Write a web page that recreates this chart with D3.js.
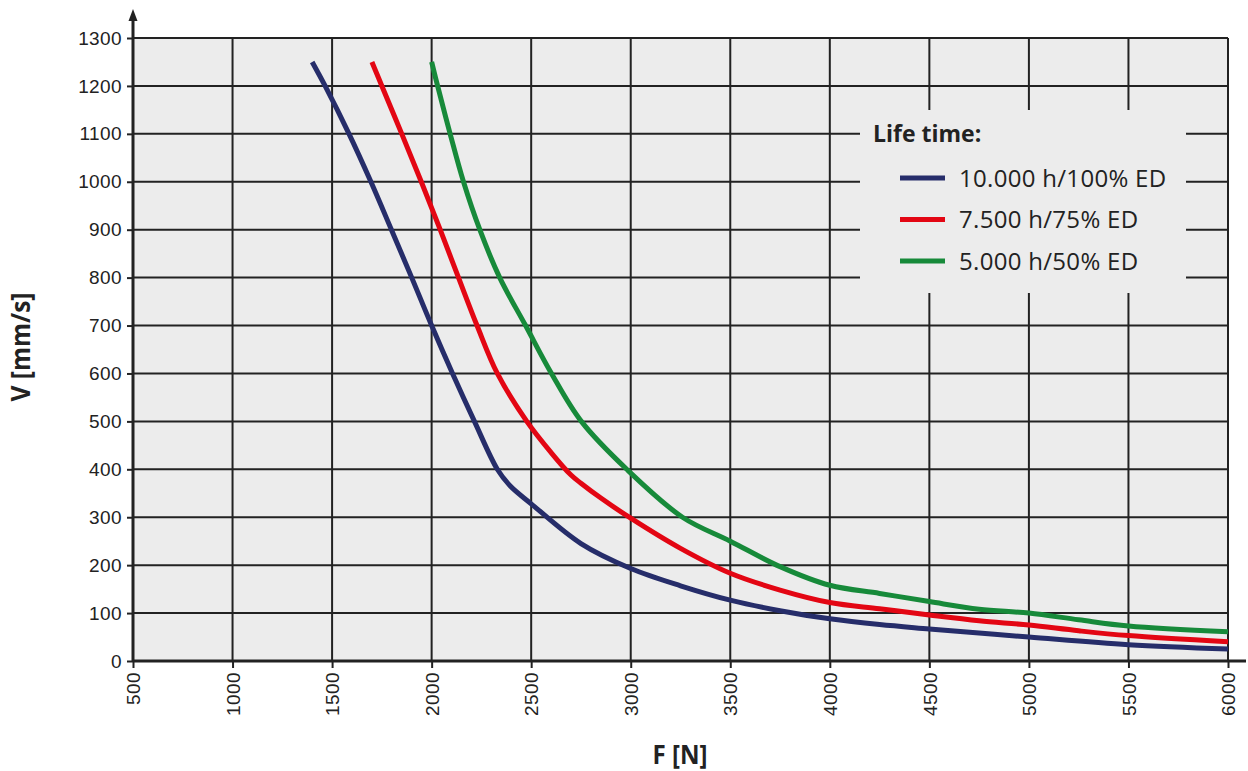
<!DOCTYPE html>
<html>
<head>
<meta charset="utf-8">
<script src="https://cdn.jsdelivr.net/npm/d3@7"></script>
<style>
  body { margin: 0; background: #fff; }
  svg { display: block; }
  .tick text { font-family: "Liberation Sans", Arial, sans-serif; font-size: 19px; fill: #222; letter-spacing: 0.4px; }
  .lab { font-family: "Open Sans", sans-serif; fill: #222; }
</style>
</head>
<body>
<svg id="chart" width="1248" height="771"></svg>
<script>
// force [N] ticks and speed [mm/s] ticks
var xTicks = [500,1000,1500,2000,2500,3000,3500,4000,4500,5000,5500,6000];
var yTicks = [0,100,200,300,400,500,600,700,800,900,1000,1100,1200,1300];

// 10.000 h / 100% ED
var blueF = [1400,1465,1585,1695,1798,1900,2000,2105,2215,2330,2395,2500,2750,3000,3250,3500,3750,4000,4250,4500,5000,5500,6000];
var blueV = [1250,1200,1100,1000,900,800,700,600,500,400,365,328,245,193,157,127,105,88,76,67,50,34,25];

// 7.500 h / 75% ED
var redF = [1700,1750,1850,1948,2043,2135,2228,2330,2478,2600,2700,2750,2850,3000,3250,3500,3750,4000,4250,4500,4750,5000,5250,5500,6000];
var redV = [1250,1200,1100,1000,900,800,700,600,500,435,388,371,340,298,235,183,148,122,109,96,84,75,63,53,40];

// 5.000 h / 50% ED
var greenF = [2000,2030,2093,2160,2242,2342,2472,2602,2752,2980,3260,3500,3750,4000,4250,4500,4750,5000,5250,5500,6000];
var greenV = [1250,1200,1100,1000,900,800,700,600,500,400,300,250,197,158,141,124,108,100,86,73,61];

var seriesNames = ["10.000 h/100% ED", "7.500 h/75% ED", "5.000 h/50% ED"];
var seriesColors = ["#262d6a", "#e30613", "#178a3a"];

var plotL = 133, plotR = 1228, plotT = 38, plotB = 661;

var svg = d3.select("#chart");

var x = d3.scaleLinear().domain([500, 6000]).range([plotL, plotR]);
var y = d3.scaleLinear().domain([0, 1300]).range([plotB, plotT]);

// plot background
svg.append("rect")
  .attr("x", plotL).attr("y", plotT)
  .attr("width", plotR - plotL).attr("height", plotB - plotT)
  .attr("fill", "#ececec");

// grid
svg.append("g").selectAll("line").data(xTicks.slice(1)).enter().append("line")
  .attr("x1", d => x(d)).attr("x2", d => x(d))
  .attr("y1", plotT).attr("y2", plotB)
  .attr("stroke", "#222").attr("stroke-width", 2);
svg.append("g").selectAll("line").data(yTicks.slice(1)).enter().append("line")
  .attr("x1", plotL).attr("x2", plotR)
  .attr("y1", d => y(d)).attr("y2", d => y(d))
  .attr("stroke", "#222").attr("stroke-width", 2);

// axes
var xAxis = svg.append("g")
  .attr("transform", "translate(0," + plotB + ")")
  .call(d3.axisBottom(x).tickValues(xTicks).tickSize(7).tickSizeOuter(0).tickFormat(d3.format("d")));
xAxis.select(".domain").remove();
xAxis.selectAll(".tick line").attr("stroke", "#222").attr("stroke-width", 2);
xAxis.selectAll(".tick text")
  .attr("transform", "translate(0,11) rotate(-90)")
  .attr("x", 0).attr("y", 0).attr("dy", "0.35em")
  .attr("text-anchor", "end");

var yAxis = svg.append("g")
  .attr("transform", "translate(" + plotL + ",0)")
  .call(d3.axisLeft(y).tickValues(yTicks).tickSize(6).tickSizeOuter(0).tickPadding(5).tickFormat(d3.format("d")));
yAxis.select(".domain").remove();
yAxis.selectAll(".tick line").attr("stroke", "#222").attr("stroke-width", 2);

svg.append("line")
  .attr("x1", plotL).attr("x2", 1246).attr("y1", plotB).attr("y2", plotB)
  .attr("stroke", "#222").attr("stroke-width", 3);
svg.append("line")
  .attr("x1", plotL).attr("x2", plotL).attr("y1", plotB + 1).attr("y2", 18)
  .attr("stroke", "#222").attr("stroke-width", 3);
svg.append("path")
  .attr("d", "M" + plotL + ",9 L" + (plotL - 4.5) + ",21 L" + (plotL + 4.5) + ",21 Z")
  .attr("fill", "#222");

// curves
var line = d3.line()
  .x(d => x(d[0])).y(d => y(d[1]))
  .curve(d3.curveCatmullRom.alpha(0.5));

var series = [d3.zip(blueF, blueV), d3.zip(redF, redV), d3.zip(greenF, greenV)];

svg.append("g").selectAll("path").data(series).enter().append("path")
  .attr("d", line)
  .attr("fill", "none")
  .attr("stroke", (d, i) => seriesColors[i])
  .attr("stroke-width", 5);

// legend
var lg = svg.append("g");
lg.append("rect")
  .attr("x", 860).attr("y", 110).attr("width", 326).attr("height", 183)
  .attr("fill", "#ececec");
lg.append("text").attr("class", "lab")
  .attr("x", 873).attr("y", 142)
  .attr("font-size", 23).attr("font-weight", "bold")
  .text("Life time:");
var items = lg.selectAll("g.item").data(seriesNames).enter().append("g")
  .attr("transform", (d, i) => "translate(0," + (178 + i * 41.5) + ")");
items.append("line")
  .attr("x1", 900).attr("x2", 945).attr("y1", 0).attr("y2", 0)
  .attr("stroke", (d, i) => seriesColors[i]).attr("stroke-width", 5);
items.append("text").attr("class", "lab")
  .attr("x", 959).attr("y", 8.5)
  .attr("font-size", 24).attr("letter-spacing", 0.3)
  .text(d => d);

// axis titles
svg.append("text").attr("class", "lab")
  .attr("transform", "translate(30,347) rotate(-90)")
  .attr("text-anchor", "middle")
  .attr("font-size", 27).attr("font-weight", "bold")
  .attr("textLength", 109).attr("lengthAdjust", "spacingAndGlyphs")
  .text("V [mm/s]");
svg.append("text").attr("class", "lab")
  .attr("x", 680).attr("y", 764)
  .attr("text-anchor", "middle")
  .attr("font-size", 26).attr("font-weight", "bold")
  .attr("textLength", 55).attr("lengthAdjust", "spacingAndGlyphs")
  .text("F [N]");
</script>
</body>
</html>
